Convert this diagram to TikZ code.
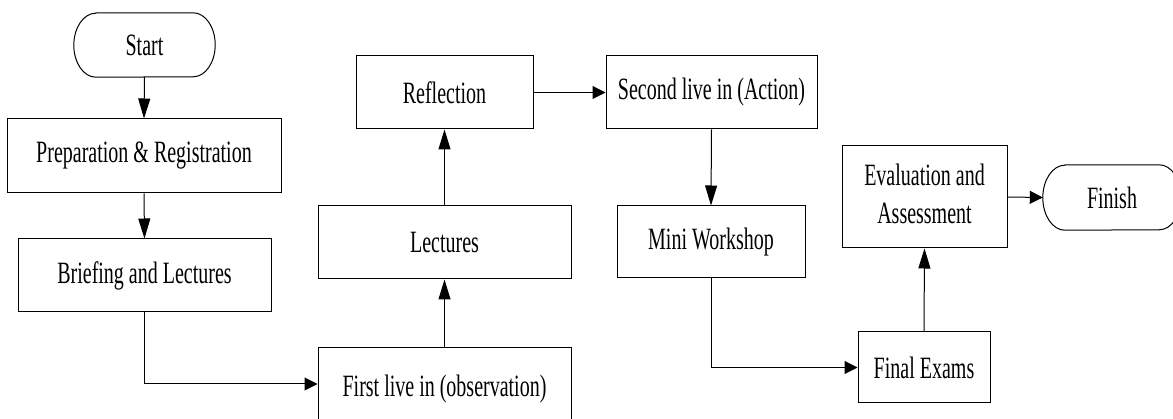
\documentclass[tikz,border=0pt]{standalone}
\usepackage{fontspec}
\setmainfont{Liberation Serif}
\usetikzlibrary{arrows.meta,calc}
\newcommand{\tallt}[1]{\scalebox{1}[1.55]{#1}}
\begin{document}
\begin{tikzpicture}[x=1pt,y=-1pt,
  box/.style={draw=black,line width=1pt,rectangle,inner sep=0pt,anchor=center,
    font=\fontsize{20}{24}\selectfont,align=center},
  term/.style={draw=none,rectangle,inner sep=0pt,anchor=center,
    font=\fontsize{20}{24}\selectfont},
  varrow/.style={line width=1pt,-{Triangle[length=20pt,width=12pt]}},
  harrow/.style={line width=1pt,-{Triangle[length=13pt,width=13pt]}},
  conn/.style={line width=1pt}]
\useasboundingbox (0,0) rectangle (1173,419);
\clip (0,0) rectangle (1173,419);
\fill[white] (0,0) rectangle (1173,419);
% nodes
\node[term,minimum width=141pt,minimum height=64pt] (start) at (144.5,45) {\tallt{Start}};
\node[box,minimum width=274pt,minimum height=74pt] (prep) at (144,156) {\tallt{Preparation \& Registration}};
\node[box,minimum width=253pt,minimum height=73pt] (brief) at (144.5,275.5) {\tallt{Briefing and Lectures}};
\node[box,minimum width=253pt,minimum height=82pt] (first) at (444.5,389) {\tallt{First live in (observation)}};
\node[box,minimum width=253pt,minimum height=73pt] (lect) at (444.5,242.5) {\tallt{Lectures}};
\node[box,minimum width=177pt,minimum height=73pt] (refl) at (444.5,92.5) {\tallt{Reflection}};
\node[box,minimum width=211pt,minimum height=73pt] (second) at (711.5,92.5) {\tallt{Second live in (Action)}};
\node[box,minimum width=188pt,minimum height=72pt] (mini) at (711,242) {\tallt{Mini Workshop}};
\node[box,minimum width=132pt,minimum height=71pt] (final) at (924,367.5) {\tallt{Final Exams}};
\node[box,minimum width=165pt,minimum height=102pt] (eval) at (924.5,197) {\tallt{\begin{tabular}{@{}c@{}}Evaluation and\\Assessment\end{tabular}}};
\node[term,minimum width=138pt,minimum height=65pt] (finish) at (1112,197.5) {\tallt{Finish}};
% terminator outlines
\draw[line width=1pt] ($(start.north west)+(22,0)$) -- ($(start.north east)+(-22,0)$)
  arc[start angle=90,end angle=-90,x radius=22pt,y radius=32pt]
  -- ($(start.south west)+(22,0)$)
  arc[start angle=270,end angle=90,x radius=22pt,y radius=32pt] -- cycle;
\draw[line width=1pt] ($(finish.north west)+(22,0)$) -- ($(finish.north east)+(-22,0)$)
  arc[start angle=90,end angle=-90,x radius=22pt,y radius=32.5pt]
  -- ($(finish.south west)+(22,0)$)
  arc[start angle=270,end angle=90,x radius=22pt,y radius=32.5pt] -- cycle;
% connectors
\draw[varrow] (start.south) -- (prep.north);
\draw[varrow] (prep.south) -- (brief.north);
\draw[harrow] (brief.south) |- ([yshift=5pt]first.west);
\draw[varrow] (first.north) -- (lect.south);
\draw[varrow] (lect.north) -- (refl.south);
\draw[harrow] (refl.east) -- (second.west);
\draw[varrow] (second.south) -- (mini.north);
\draw[harrow] (mini.south) |- (final.west);
\draw[varrow] (final.north) -- (eval.south);
\draw[harrow] (eval.east) -- (finish.west);
\end{tikzpicture}
\end{document}
